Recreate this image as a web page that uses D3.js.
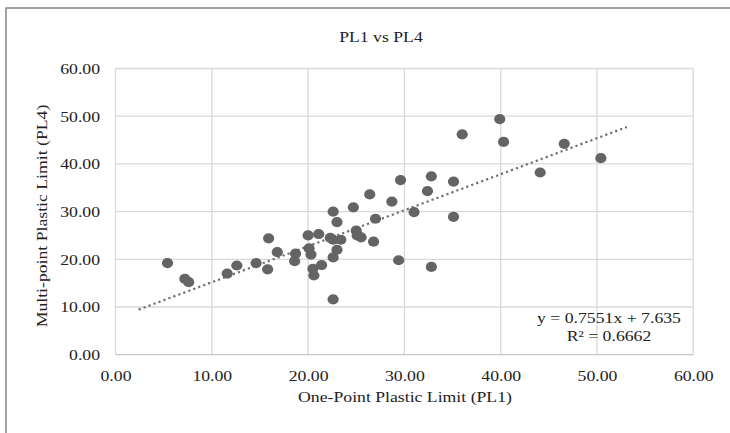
<!DOCTYPE html>
<html>
<head>
<meta charset="utf-8">
<script src="https://cdn.jsdelivr.net/npm/d3@7"></script>
<style>
  html, body { margin: 0; padding: 0; background: #fff; }
  svg { display: block; }
  text { font-family: "Liberation Serif", "Times New Roman", serif; fill: #222; }
</style>
</head>
<body>
<svg id="chart" width="730" height="433"></svg>
<script>
// ---- data ----
const title = "PL1 vs PL4";
const xTitle = "One-Point Plastic Limit  (PL1)";
const yTitle = "Multi-point Plastic Limit  (PL4)";
const xTicks = [0, 10, 20, 30, 40, 50, 60];
const yTicks = [0, 10, 20, 30, 40, 50, 60];
const pl1 = [5.4, 7.2, 7.6, 11.6, 12.6, 14.6, 15.9, 15.8, 16.8, 18.6, 18.7, 20.0, 21.1, 20.1, 20.3, 20.5,
             20.6, 21.4, 22.6, 22.6, 23.0, 22.3, 22.6, 23.4, 23.0, 22.6, 24.7, 25.0, 25.1, 25.5, 26.8, 27.0,
             26.4, 28.7, 29.6, 29.4, 31.0, 32.4, 32.8, 32.8, 35.1, 35.1, 36.0, 39.9, 40.3, 44.1, 46.6, 50.4];
const pl4 = [19.2, 15.9, 15.2, 17.0, 18.7, 19.2, 24.4, 17.9, 21.5, 19.6, 21.2, 25.0, 25.3, 22.3, 21.0, 18.0,
             16.6, 18.8, 11.6, 30.0, 27.8, 24.5, 24.1, 24.1, 22.0, 20.4, 30.9, 26.0, 25.0, 24.6, 23.7, 28.5,
             33.6, 32.1, 36.6, 19.8, 29.9, 34.3, 37.4, 18.4, 36.3, 28.9, 46.2, 49.4, 44.6, 38.2, 44.2, 41.2];
const slope = 0.7551, intercept = 7.635;
const trendRange = [2.4, 53.1];
const eqLines = ["y = 0.7551x + 7.635", "R\u00B2 = 0.6662"];

// ---- drawing ----
const svg = d3.select("#chart");
const stretch = 1.18;
const fs = 15;

const x = d3.scaleLinear().domain([0, 60]).range([115.5, 693.3]);
const y = d3.scaleLinear().domain([0, 60]).range([354.7, 68.5]);

// outer chart frame (clipped at right/bottom like the reference)
svg.append("rect").attr("x", 6).attr("y", 8).attr("width", 760).attr("height", 460)
  .attr("fill", "#fff").attr("stroke", "#8f8f8f").attr("stroke-width", 1.6);

// gridlines
const grid = svg.append("g");
grid.selectAll("line.v").data(xTicks).join("line").attr("class", "v")
  .attr("x1", d => x(d)).attr("x2", d => x(d)).attr("y1", y(60)).attr("y2", y(0))
  .attr("stroke", "#d9d9d9").attr("stroke-width", 1.3);
grid.selectAll("line.h").data(yTicks).join("line").attr("class", "h")
  .attr("y1", d => y(d)).attr("y2", d => y(d)).attr("x1", x(0)).attr("x2", x(60))
  .attr("stroke", d => d === 0 ? "#c8c8c8" : "#d9d9d9").attr("stroke-width", 1.3);

// axes (labels only)
const fmt = d3.format(".2f");
const gx = svg.append("g").attr("transform", `translate(0,${y(0)})`)
  .call(d3.axisBottom(x).tickValues(xTicks).tickFormat(fmt).tickSize(0).tickPadding(15.3));
const gy = svg.append("g").attr("transform", `translate(${x(0)},0)`)
  .call(d3.axisLeft(y).tickValues(yTicks).tickFormat(fmt).tickSize(0).tickPadding(15.5));
[gx, gy].forEach(g => {
  g.select(".domain").remove();
  g.attr("font-family", null).attr("font-size", null);
  g.selectAll("text").attr("font-size", fs).style("fill", "#222");
});

// trendline
svg.append("line")
  .attr("x1", x(trendRange[0])).attr("y1", y(slope * trendRange[0] + intercept))
  .attr("x2", x(trendRange[1])).attr("y2", y(slope * trendRange[1] + intercept))
  .attr("stroke", "#6f6f6f").attr("stroke-width", 2.2)
  .attr("stroke-dasharray", "2.2 3.1");

// points
svg.append("g").selectAll("ellipse").data(pl1.map((v, i) => [v, pl4[i]])).join("ellipse")
  .attr("cx", d => x(d[0])).attr("cy", d => y(d[1]))
  .attr("rx", 5.6).attr("ry", 5.1).attr("fill", "#646464");

// equation
svg.append("g").selectAll("text").data(eqLines).join("text")
  .attr("x", 609).attr("y", (d, i) => 322.7 + i * 18.5)
  .attr("text-anchor", "middle").attr("font-size", fs).text(d => d);

// titles
svg.append("text").attr("x", 381).attr("y", 41.7).attr("text-anchor", "middle")
  .attr("font-size", fs).text(title);
svg.append("text").attr("x", 405).attr("y", 401.7).attr("text-anchor", "middle")
  .attr("font-size", fs).text(xTitle);
svg.append("text")
  .attr("transform", `translate(47,216) rotate(-90)`)
  .attr("text-anchor", "middle").attr("font-size", fs).text(yTitle);

// horizontal stretch of the text, as in the reference picture
svg.selectAll("text").each(function () {
  const w = this.getComputedTextLength();
  d3.select(this).attr("textLength", w * stretch).attr("lengthAdjust", "spacingAndGlyphs");
});
</script>
</body>
</html>
